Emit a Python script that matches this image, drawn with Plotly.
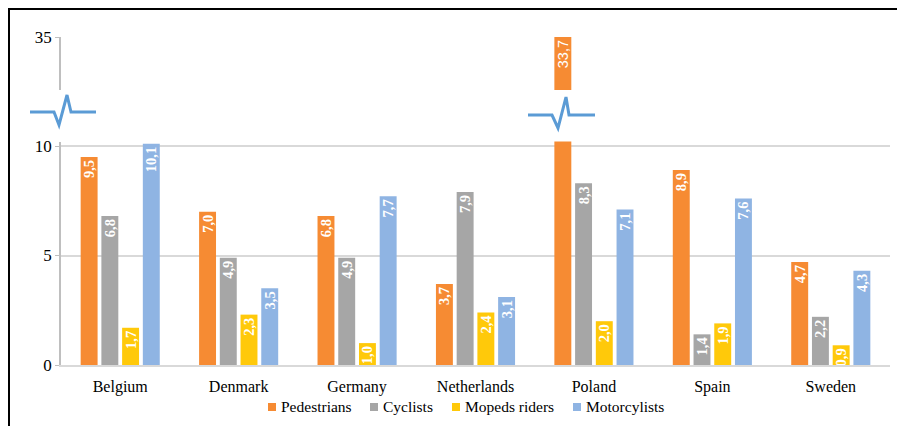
import plotly.graph_objects as go

countries = ["Belgium", "Denmark", "Germany", "Netherlands", "Poland", "Spain", "Sweden"]
series_names = ["Pedestrians", "Cyclists", "Mopeds riders", "Motorcylists"]
pedestrians = [9.5, 7.0, 6.8, 3.7, 33.7, 8.9, 4.7]
cyclists = [6.8, 4.9, 4.9, 7.9, 8.3, 1.4, 2.2]
mopeds = [1.7, 2.3, 1.0, 2.4, 2.0, 1.9, 0.9]
motorcyclists = [10.1, 3.5, 7.7, 3.1, 7.1, 7.6, 4.3]
lower_ticks = [0, 5, 10]
upper_tick_label = ["35"]
broken_country = "Poland"

colors = ["#F68B33", "#A6A6A6", "#FFC90A", "#8FB4E3"]
all_series = [pedestrians, cyclists, mopeds, motorcyclists]

# page offset (browser body margin) and figure geometry in page pixels
OFF = 8
W, H = 897, 418
PL, PR, PT, PB = 61, 890, 37, 365   # plot area in page pixels
ML, MR, MT, MB = PL - OFF, W - (PR - OFF), PT - OFF, H - (PB - OFF)
PW, PH = PR - PL, PB - PT
LOWER_TOP = 10.2
UNIT_PX = 21.9


def px_x(p):
    return (p - PL) / PW


def px_y(p):
    return (PB - p) / PH


def fmt(v):
    return f"{v:.1f}".replace(".", ",")


slot = 0.175
bw = 0.143
offsets = [-0.35 + i * slot + (slot - bw) / 2 for i in range(4)]

fig = go.Figure()
for i, (name, vals) in enumerate(zip(series_names, all_series)):
    texts = [fmt(v) if v <= LOWER_TOP else "" for v in vals]
    fig.add_trace(go.Bar(
        x=countries, y=vals, name=name, yaxis="y", showlegend=False,
        marker=dict(color=colors[i], line=dict(width=0)),
        width=bw, offset=offsets[i],
        text=texts, textposition="inside", insidetextanchor="end",
        textangle=-90, constraintext="none",
        textfont=dict(family="Liberation Serif", size=14.5, color="white", weight="bold"),
    ))

# upper segment of the broken axis (value above the lower range)
bi = countries.index(broken_country)
fig.add_trace(go.Bar(
    x=[broken_country], y=[pedestrians[bi]], yaxis="y2", showlegend=False,
    marker=dict(color=colors[0], line=dict(width=0)),
    width=bw, offset=offsets[0],
    text=[fmt(pedestrians[bi])], textposition="inside", insidetextanchor="end",
    textangle=-90, constraintext="none",
    textfont=dict(family="Liberation Sans", size=14.5, color="white"),
))

lower_dom_top = (LOWER_TOP * UNIT_PX) / PH
upper_dom_bottom = px_y(90)

shapes = []
annotations = []
# frame (top and left edges)
shapes.append(dict(type="line", xref="paper", yref="paper",
                   x0=px_x(OFF), x1=px_x(OFF + W), y0=px_y(OFF + 1), y1=px_y(OFF + 1),
                   line=dict(color="black", width=2)))
shapes.append(dict(type="line", xref="paper", yref="paper",
                   x0=px_x(OFF + 1), x1=px_x(OFF + 1), y0=px_y(OFF), y1=px_y(OFF + H),
                   line=dict(color="black", width=2)))


def zig(pts):
    return "M " + " L ".join(f"{px_x(a):.5f},{px_y(b):.5f}" for a, b in pts)


for pts in ([(30, 112), (54, 112), (59, 125), (67, 95), (71, 112), (96, 112)],
            [(528, 115), (552, 115), (558, 128), (566, 97), (569, 115), (595, 115)]):
    shapes.append(dict(type="path", xref="paper", yref="paper", path=zig(pts),
                       line=dict(color="#5B9BD5", width=3)))

# legend (compact, Excel-like)
legend_sq_x = [268, 370, 452, 573]
LEG_Y = 407
for name, col, sx in zip(series_names, colors, legend_sq_x):
    shapes.append(dict(type="rect", xref="paper", yref="paper",
                       x0=px_x(sx), x1=px_x(sx + 8), y0=px_y(LEG_Y + 4), y1=px_y(LEG_Y - 4),
                       fillcolor=col, line=dict(width=0)))
    annotations.append(dict(xref="paper", yref="paper", x=px_x(sx + 11), y=px_y(LEG_Y),
                            xanchor="left", yanchor="middle", showarrow=False,
                            text=name, font=dict(size=15.5, color="black")))

fig.update_layout(
    width=W, height=H,
    margin=dict(l=ML, r=MR, t=MT, b=MB),
    paper_bgcolor="white", plot_bgcolor="white",
    barmode="overlay",
    showlegend=False,
    font=dict(family="Liberation Serif", size=16, color="black"),
    xaxis=dict(categoryorder="array", categoryarray=countries,
               showline=True, linecolor="#D9D9D9", linewidth=1.5,
               ticks="", tickfont=dict(size=16), ticklabelstandoff=6, anchor="y"),
    yaxis=dict(domain=[0, lower_dom_top], range=[0, LOWER_TOP],
               tickvals=lower_ticks, ticktext=[str(t) for t in lower_ticks],
               showgrid=True, gridcolor="#D9D9D9", gridwidth=1.5,
               zeroline=False, showline=True, linecolor="#BFBFBF", linewidth=1.5,
               ticks="outside", ticklen=4, tickcolor="#BFBFBF",
               tickfont=dict(size=17), anchor="x"),
    yaxis2=dict(domain=[upper_dom_bottom, 1], range=[0, pedestrians[bi]],
                tickvals=[pedestrians[bi]], ticktext=upper_tick_label,
                showgrid=True, gridcolor="#D9D9D9", gridwidth=1.5,
                zeroline=False, showline=True, linecolor="#BFBFBF", linewidth=1.5,
                ticks="outside", ticklen=4, tickcolor="#BFBFBF",
                tickfont=dict(size=17), anchor="x"),
    shapes=shapes,
    annotations=annotations,
)

fig.write_html("out.html")
